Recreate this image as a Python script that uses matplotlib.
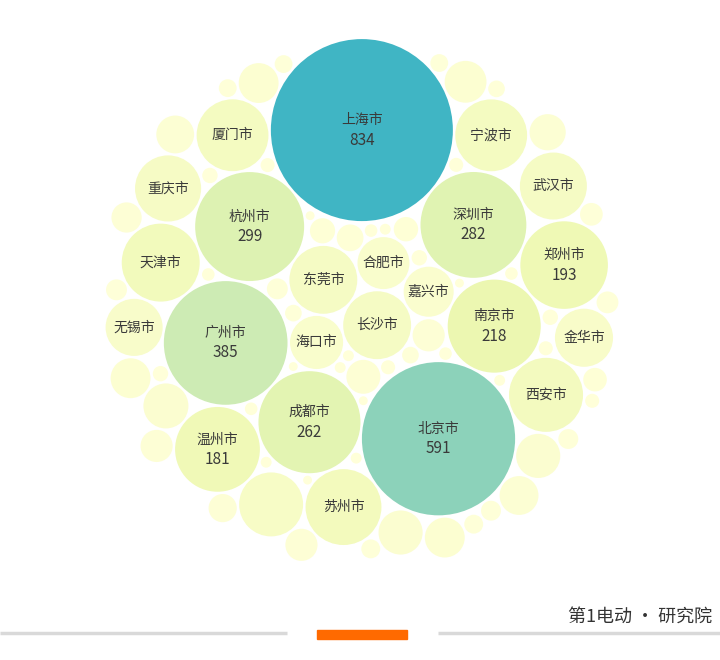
"""Packed bubble chart of city values"""
import numpy as np
import matplotlib.pyplot as plt
from matplotlib import colors
from matplotlib.patches import Circle, Rectangle

plt.rcParams['font.family'] = ['Noto Sans CJK SC', 'DejaVu Sans']

# named cities, in packing order (values of the smaller ones)
# first 5 wrap round the middle, next 5 sit inside, the rest go outside
cities = ["上海市", "杭州市", "广州市", "成都市", "北京市",
          "海口市", "东莞市", "长沙市", "合肥市", "嘉兴市",
          "深圳市", "南京市", "郑州市", "温州市", "天津市", "苏州市",
          "西安市", "宁波市", "厦门市", "武汉市", "重庆市", "金华市",
          "无锡市"]
values = [834, 299, 385, 262, 591,
          71, 116, 116, 68, 63,
          282, 218, 193, 181, 153, 145,
          138, 130, 130, 113, 110, 85,
          82]
# unnamed cities, only drawn as bubbles
other_values = [103, 51, 49, 49, 44, 40, 40, 40, 38, 36, 33, 29, 26, 26, 26,
                23, 20, 18, 16, 15, 14, 13, 12, 11, 11, 10, 10, 9, 9, 8, 8, 8,
                7, 7, 7, 6, 6, 6, 6, 5, 5, 5, 5, 5, 4, 4, 4, 4, 4, 3, 3, 3, 3,
                3, 3, 2, 2, 2, 2, 2]
show_value_min = 180
n_ring, n_inner = 5, 5
hole = 78        # empty middle the ring bubbles wrap round
big_other = 60   # unnamed bubbles at least this big go with the outer ones
pad = 2.5


def ring_layout(radii, h, pad):
    """chain of circles, each touching the hole and the one before"""
    pos = []
    ang = 0.0
    for k, r in enumerate(radii):
        if k > 0:
            a, b = h + radii[k - 1] + pad, h + r + pad
            c = radii[k - 1] + r + pad
            ang -= np.arccos((a * a + b * b - c * c) / (2 * a * b))
        pos.append([(h + r + pad) * np.cos(ang), (h + r + pad) * np.sin(ang)])
    pos = np.array(pos)
    # turn the chain so that its biggest bubble is on top
    top = np.argmax(radii)
    t = -np.pi / 2 - np.arctan2(pos[top, 1], pos[top, 0])
    rot = np.array([[np.cos(t), -np.sin(t)], [np.sin(t), np.cos(t)]])
    return pos @ rot.T


def pack(radii, pos, n_fixed, pad):
    """greedy packing: each circle goes to the free tangent spot nearest the middle"""
    pos = np.vstack([pos, np.zeros((len(radii) - n_fixed, 2))])
    for k in range(n_fixed, len(radii)):
        r = radii[k]
        P = pos[:k]
        R = radii[:k]
        i, j = np.triu_indices(k, 1)
        d_vec = P[j] - P[i]
        d = np.hypot(d_vec[:, 0], d_vec[:, 1])
        a = R[i] + r + pad
        b = R[j] + r + pad
        ok = (d < a + b) & (d > np.abs(a - b))
        i, j, d_vec, d, a, b = i[ok], j[ok], d_vec[ok], d[ok], a[ok], b[ok]
        l = (a ** 2 - b ** 2 + d ** 2) / (2 * d)
        h = np.sqrt(np.maximum(a ** 2 - l ** 2, 0))
        u = d_vec / d[:, None]
        perp = np.stack([-u[:, 1], u[:, 0]], 1)
        base = P[i] + u * l[:, None]
        cand = np.vstack([base + perp * h[:, None], base - perp * h[:, None]])
        dist = np.hypot(cand[:, None, 0] - P[None, :, 0], cand[:, None, 1] - P[None, :, 1])
        free = (dist >= (R[None, :] + r + pad - 1e-6)).all(1)
        cand = cand[free]
        best = np.argmin(np.hypot(cand[:, 0], cand[:, 1]))
        pos[k] = cand[best]
    return pos


n_head = n_ring + n_inner
outer = [(v, c) for v, c in zip(values[n_head:], cities[n_head:])]
outer += [(v, "") for v in other_values if v >= big_other]
outer.sort(key=lambda t: -t[0])
fill = sorted([v for v in other_values if v < big_other], reverse=True)
pack_values = np.array(values[:n_head] + [t[0] for t in outer] + fill, dtype=float)
pack_names = cities[:n_head] + [t[1] for t in outer] + [""] * len(fill)
radii = 91 * np.sqrt(pack_values / 834)

pos = ring_layout(radii[:n_ring], hole, pad)
pos = pack(radii, pos, n_ring, pad)

lo = (pos - radii[:, None]).min(0)
hi = (pos + radii[:, None]).max(0)
mid = (lo + hi) / 2

fig = plt.figure(figsize=(7.2, 6.6), dpi=100)
ax = fig.add_axes([0, 0, 1, 1])
ax.set_xlim(mid[0] - 362, mid[0] + 358)
ax.set_ylim(mid[1] + 360, mid[1] - 300)
ax.set_aspect("equal")
ax.axis("off")

norm = colors.Normalize(0, 1668)
cmap = plt.get_cmap("YlGnBu")
for (x, y), r, v, name in zip(pos, radii, pack_values, pack_names):
    ax.add_patch(Circle((x, y), r, facecolor=cmap(norm(v)), edgecolor="none"))
    if name:
        if v >= show_value_min:
            ax.text(x, y - 10, name, ha="center", va="center", fontsize=10, color="#3a3a3a")
            ax.text(x, y + 10, f"{v:.0f}", ha="center", va="center", fontsize=11, color="#3a3a3a")
        else:
            ax.text(x, y, name, ha="center", va="center", fontsize=10, color="#3a3a3a")

# footer decoration
fax = fig.add_axes([0, 0, 1, 1], facecolor="none")
fax.set_xlim(0, 720)
fax.set_ylim(660, 0)
fax.axis("off")
fax.plot([0, 287], [633, 633], color="#d9d9d9", lw=2.5, solid_capstyle="butt")
fax.plot([438, 720], [633, 633], color="#d9d9d9", lw=2.5, solid_capstyle="butt")
fax.add_patch(Rectangle((317, 630), 90, 9, color="#ff6a00"))
fax.text(712, 617, "第1电动 · 研究院", ha="right", va="center", fontsize=13, color="#333333")

plt.savefig("out.png", dpi=100)
